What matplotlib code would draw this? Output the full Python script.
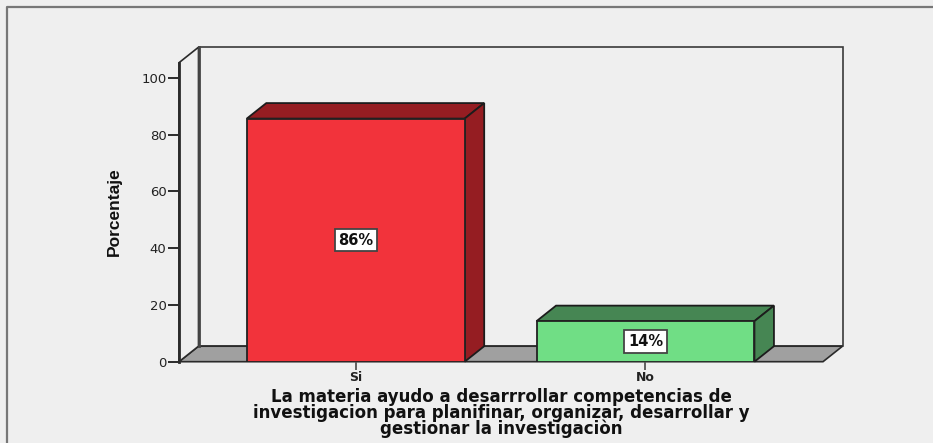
import matplotlib
matplotlib.use('Agg')
import matplotlib.pyplot as plt
from matplotlib.patches import Polygon

categories = ['Si', 'No']
values = [85.7, 14.3]
labels = ['86%', '14%']
yticks = [0, 20, 40, 60, 80, 100]
xlabel = ('La materia ayudo a desarrrollar competencias de\n'
          'investigacion para planifinar, organizar, desarrollar y\n'
          'gestionar la investigaciòn')

front_colors = ['#f2333b', '#70de85']
top_colors = ['#951d22', '#468653']
bg = '#efefef'
line = '#2a2a2a'

W, H = 933, 443
fig = plt.figure(figsize=(W / 100, H / 100), dpi=100, facecolor=bg)

# frame of the pasted screenshot, only top and left show
frame = fig.add_axes([0, 0, 1, 1], facecolor=bg)
frame.set_xlim(0, W)
frame.set_ylim(H, 0)
frame.axis('off')
frame.plot([7, 7, W], [H, 7, 7], color='#777777', lw=1.6)

# plot area in pixels: x 179-823, y 362-63
ax = fig.add_axes([179 / W, 1 - 361.7 / H, 644 / W, 299 / H])
ax.patch.set_visible(False)
ax.set_xlim(-0.61, 1.6126)
ax.set_ylim(0, 105.4)

# depth of the fake 3d box, in data units
dx = 19.5 / 289.75
dy = 15.5 / 2.837
ymax = 105.4
xl, xr = ax.get_xlim()

# floor and back wall
ax.add_patch(Polygon([(xl + dx, dy), (xr + dx, dy), (xr + dx, ymax + dy), (xl + dx, ymax + dy)],
                     closed=True, fc=bg, ec='#3a3a3a', lw=1.2, clip_on=False, zorder=1))
ax.add_patch(Polygon([(xl, 0), (xr, 0), (xr + dx, dy), (xl + dx, dy)], closed=True,
                     fc='#a0a0a0', ec=line, lw=1.2, clip_on=False, zorder=1))
# left wall
ax.add_patch(Polygon([(xl, 0), (xl + dx, dy), (xl + dx, ymax + dy), (xl, ymax)], closed=True,
                     fc=bg, ec=line, lw=1.2, clip_on=False, zorder=1))
ax.plot([xl, xl], [0, ymax], color=line, lw=2, clip_on=False, zorder=2)
ax.plot([xl + dx, xl + dx], [dy, ymax + dy], color='#444444', lw=2, clip_on=False, zorder=2)

positions = range(len(categories))
width = 0.752
bars = ax.bar(positions, values, width=width, color=front_colors, edgecolor='#222222',
              linewidth=1.3, zorder=4)

for pos, val, top_c in zip(positions, values, top_colors):
    l, r = pos - width / 2, pos + width / 2
    ax.add_patch(Polygon([(l, val), (r, val), (r + dx, val + dy), (l + dx, val + dy)], closed=True,
                         fc=top_c, ec='#1c1c1c', lw=1.3, clip_on=False, zorder=3))
    ax.add_patch(Polygon([(r, 0), (r + dx, dy), (r + dx, val + dy), (r, val)], closed=True,
                         fc=top_c, ec='#1c1c1c', lw=1.3, clip_on=False, zorder=3))

for pos, val, lab in zip(positions, values, labels):
    ax.text(pos, val / 2, lab, ha='center', va='center', fontsize=10.5, fontweight='bold',
            family='DejaVu Sans', color='#111111', zorder=6,
            bbox=dict(boxstyle='square,pad=0.25', fc='white', ec='#444444', lw=1.3))

for s in ['top', 'right', 'bottom', 'left']:
    ax.spines[s].set_visible(False)

ax.set_yticks(yticks)
ax.tick_params(axis='y', length=8, width=1.4, color=line, labelsize=9.5, pad=1, labelcolor='#222222')
ax.set_xticks(list(positions))
ax.set_xticklabels(categories, fontsize=9, fontweight='bold', color='#222222')
ax.tick_params(axis='x', length=6, width=1.3, color='#555555', pad=0.5)

fig.text(114.5 / W, 1 - 212 / H, 'Porcentaje', rotation=90, ha='center', va='center', fontsize=12.5,
         fontweight='bold', family=['Liberation Sans Narrow', 'Liberation Sans'], color='#111111')
fig.text(501 / W, 1 - 413 / H, xlabel, ha='center', va='center', fontsize=12, fontweight='bold',
         family='DejaVu Sans', color='#111111', linespacing=0.84)

fig.savefig('out.png', dpi=100, facecolor=bg)
